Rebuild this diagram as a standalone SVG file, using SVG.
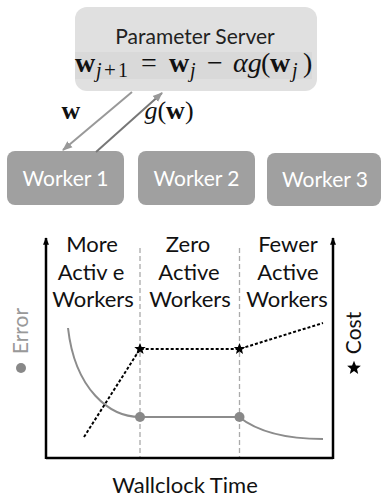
<svg xmlns="http://www.w3.org/2000/svg" width="381" height="499" viewBox="0 0 381 499">
<defs>
<style>
.sans{font-family:Lato,"Open Sans","DejaVu Sans",sans-serif;}
.math{font-family:"Liberation Serif","DejaVu Serif",serif;}
.worker rect{fill:#a0a0a0;}
.worker text{fill:#ffffff;font-size:21px;text-anchor:middle;}
.lbl{font-size:22px;text-anchor:middle;fill:#111;}
.vdash{stroke:#aaaaaa;stroke-width:1.3;stroke-dasharray:5 3;fill:none;}
.axis{stroke:#000;stroke-width:2.5;fill:none;}
.cost{stroke:#000;stroke-width:2;stroke-dasharray:3 2;fill:none;}
.err{stroke:#8c8c8c;stroke-width:2;fill:none;}
</style>
<marker id="garr" viewBox="0 0 10 10" refX="9" refY="5" markerWidth="5" markerHeight="5" orient="auto" markerUnits="strokeWidth">
<path d="M0,1 L10,5 L0,9 z" fill="#999"/>
</marker>
<marker id="karr" viewBox="0 0 10 10" refX="9" refY="5" markerWidth="3" markerHeight="3" orient="auto" markerUnits="strokeWidth">
<path d="M0,1 L10,5 L0,9 z" fill="#000"/>
</marker>
<path id="star" d="M0,-6 L1.6,-2 L5.7,-1.9 L2.5,0.8 L3.5,4.9 L0,2.5 L-3.5,4.9 L-2.5,0.8 L-5.7,-1.9 L-1.6,-2 z" fill="#000"/>
</defs>
<rect width="381" height="499" fill="#fff"/>

<g id="server">
<rect x="75" y="7" width="242" height="84" rx="12" fill="#e0e0e0"/>
<rect x="75" y="52" width="237" height="27" fill="#d9d9d9"/>
<text class="sans" x="195" y="44" font-size="21" text-anchor="middle" fill="#222">Parameter Server</text>
<text class="math" y="72" font-size="28" fill="#111"><tspan x="75" font-weight="bold">w</tspan><tspan x="96" dy="5" font-style="italic" font-size="20">j</tspan><tspan x="104" font-size="21">+</tspan><tspan x="118" font-size="20">1</tspan><tspan x="141" dy="-5">=</tspan><tspan x="169" font-weight="bold">w</tspan><tspan x="190" dy="5" font-style="italic" font-size="20">j</tspan><tspan x="207" dy="-5">−</tspan><tspan x="233" font-style="italic">αg</tspan><tspan x="261">(</tspan><tspan x="270" font-weight="bold">w</tspan><tspan x="292" dy="5" font-style="italic" font-size="20">j</tspan><tspan x="303" dy="-5">)</tspan></text>
</g>

<g id="worker1" class="worker sans"><rect x="7" y="151" width="117" height="54" rx="8"/><text x="65.5" y="186">Worker 1</text></g>
<g id="worker2" class="worker sans"><rect x="138" y="151" width="117" height="54" rx="8"/><text x="196.5" y="186">Worker 2</text></g>
<g id="worker3" class="worker sans"><rect x="267" y="153" width="114" height="53" rx="8"/><text x="325" y="187">Worker 3</text></g>

<g id="connectors">
<line x1="132" y1="92" x2="63" y2="150" stroke="#999" stroke-width="2" marker-end="url(#garr)"/>
<line x1="96" y1="152" x2="162" y2="93" stroke="#777" stroke-width="2" marker-end="url(#garr)"/>
<text class="math" x="71" y="119" font-size="26" font-weight="bold" text-anchor="middle" fill="#111">w</text>
<text class="math" x="169" y="119" font-size="26" text-anchor="middle" fill="#111"><tspan font-style="italic">g</tspan>(<tspan font-weight="bold">w</tspan>)</text>
</g>

<g id="chart">
<line class="vdash" x1="140" y1="248" x2="140" y2="459"/>
<line class="vdash" x1="239.5" y1="248" x2="239.5" y2="459"/>
<path class="axis" d="M46,458 L333,458"/>
<line class="axis" x1="46" y1="459" x2="46" y2="238" marker-end="url(#karr)"/>
<line class="axis" x1="333" y1="459" x2="333" y2="238" marker-end="url(#karr)"/>

<g class="sans lbl">
<text x="92" y="252">More</text>
<text x="91" y="280">Activ e</text>
<text x="93" y="307">Workers</text>
<text x="188" y="252">Zero</text>
<text x="189" y="280">Active</text>
<text x="190" y="307">Workers</text>
<text x="288" y="252">Fewer</text>
<text x="288" y="280">Active</text>
<text x="287" y="307">Workers</text>
</g>

<path class="err" d="M68,328 C75,390 110,417 140,417 L239,417 C258,432 285,439 323,439"/>
<circle cx="140" cy="417" r="5" fill="#888"/>
<circle cx="239.5" cy="417" r="5" fill="#888"/>
<path class="cost" d="M84,437 L140,349 L239.5,349 L323,323"/>
<use href="#star" x="140" y="349"/>
<use href="#star" x="239.5" y="349"/>

<text class="sans" transform="translate(28,331) rotate(-90)" font-size="21" text-anchor="middle" fill="#999">Error</text>
<circle cx="21" cy="368" r="5" fill="#888"/>
<text class="sans" transform="translate(361,333) rotate(-90)" font-size="21" text-anchor="middle" fill="#111">Cost</text>
<use href="#star" transform="translate(354,368) scale(1.2)"/>

<text class="sans" x="185" y="493" font-size="22" text-anchor="middle" fill="#111">Wallclock  Time</text>
</g>
</svg>
